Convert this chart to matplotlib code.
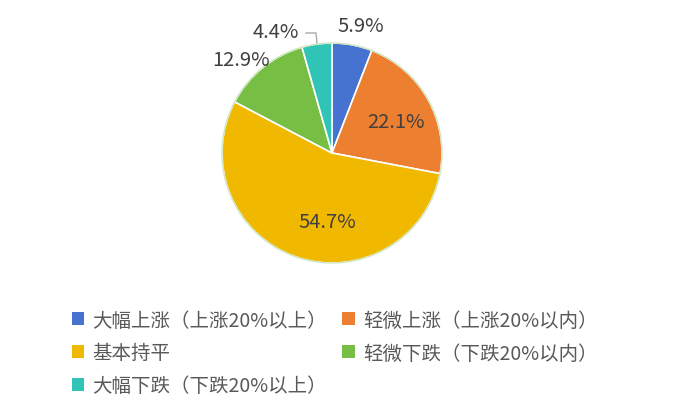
import matplotlib
matplotlib.use('Agg')
import matplotlib.pyplot as plt
from matplotlib.patches import Patch, Circle

plt.rcParams['font.family'] = ['Noto Sans CJK SC', 'DejaVu Sans']

labels = ['大幅上涨（上涨20%以上）', '轻微上涨（上涨20%以内）', '基本持平',
          '轻微下跌（下跌20%以内）', '大幅下跌（下跌20%以上）']
values = [5.9, 22.1, 54.7, 12.9, 4.4]
colors = ['#4673CF', '#ED7F31', '#F1B800', '#76BE44', '#2FC4B6']

W, H = 675, 414
fig = plt.figure(figsize=(W / 100, H / 100), dpi=100)
ax = fig.add_axes([0, 0, 1, 1])

cx, cy, r = 332, H - 154, 110
wedges, _ = ax.pie(values, colors=colors, startangle=90, counterclock=False,
                   center=(cx, cy), radius=r, frame=True,
                   wedgeprops=dict(edgecolor='white', linewidth=1.2))
ax.add_patch(Circle((cx, cy), r, fill=False, edgecolor='#cfe6c0', linewidth=1))
ax.set_xlim(0, W)
ax.set_ylim(0, H)
ax.set_aspect('equal')
ax.axis('off')

tc = '#404040'
fs = 14.5
# label positions (pixel coords, y from top)
lab_pos = [(361, 26), (396, 122), (327, 222), (241, 60), (276, 33)]
for v, (x, y) in zip(values, lab_pos):
    ax.text(x, H - y, f'{v}%', ha='center', va='center', fontsize=fs, color=tc)

# leader line for small teal slice
ax.plot([306, 316, 317], [H - 34, H - 34, H - 44], color='#aaaaaa', lw=1)

handles = [Patch(facecolor=c, edgecolor='none') for c in colors]
order = [0, 2, 4, 1, 3]
fig.legend([handles[i] for i in order], [labels[i] for i in order],
           ncol=2, loc='upper left', bbox_to_anchor=(64 / W, 1 - 303 / H),
           frameon=False, fontsize=14, labelcolor='#595959',
           handlelength=0.65, handleheight=0.65, handletextpad=0.4,
           columnspacing=0.8, labelspacing=0.6, borderaxespad=0)

fig.savefig('out.png', dpi=100)
